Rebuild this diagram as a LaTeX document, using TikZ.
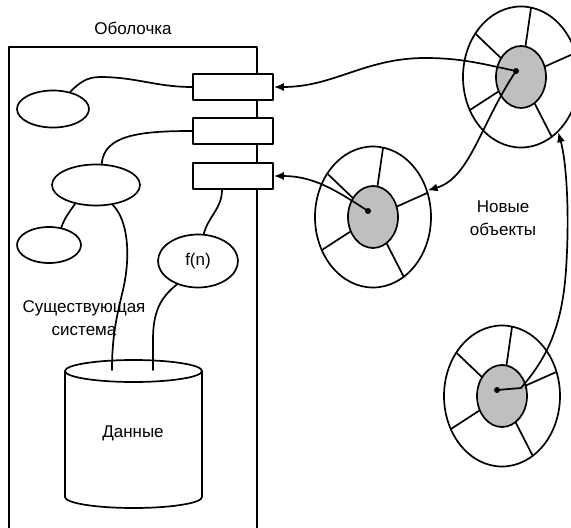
\documentclass[tikz,border=0pt]{standalone}
\usepackage{fontspec}
\setmainfont{Liberation Sans}
\usetikzlibrary{shapes.geometric,arrows.meta,calc}

% one new object: outer ring, spokes, grey core and a dot
\newcommand{\newobject}[3]{%
  \node[outerobj] (#1) at (#2,#3) {};
  \foreach \a in {80,20,-58,-152,142}
    \draw[conn] ($(#1)+({24*cos(\a)},{29*sin(\a)})$) -- ($(#1)+({58*cos(\a)},{70.5*sin(\a)})$);
  \node[innerobj] (#1in) at (#2,#3) {};
  \node[dotnode] (#1dot) at ($(#1)+(-5,6)$) {};
}

\begin{document}
\begin{tikzpicture}[x=1pt, y=1pt, line cap=round, line join=round,
  every node/.style={font=\fontsize{17}{23}\selectfont},
  conn/.style={line width=1.7pt},
  flow/.style={conn, -{Latex[length=10pt,width=8pt]}},
  port/.style={draw, fill=white, line width=1.7pt, minimum width=80pt, minimum height=26pt, inner sep=0pt},
  part/.style={draw, ellipse, line width=1.7pt, inner sep=0pt},
  outerobj/.style={draw, ellipse, line width=1.7pt, minimum width=116pt, minimum height=141pt, inner sep=0pt},
  innerobj/.style={draw, ellipse, fill=gray!50, line width=1.7pt, minimum width=50pt, minimum height=62pt, inner sep=0pt},
  dotnode/.style={circle, fill=black, minimum size=6pt, inner sep=0pt}]
  \useasboundingbox (0,0) rectangle (571,-528);

  % the shell round the old system
  \node (shelltitle) at (133,-28) {Оболочка};
  \draw[conn] (9,-530) -- (9,-47) -- (257,-47) -- (257,-530);
  \node[port] (port1) at (233,-87) {};
  \node[port] (port2) at (233,-131) {};
  \node[port] (port3) at (233,-176) {};

  % parts of the existing system
  \node[part, minimum width=72pt, minimum height=37pt] (e1) at (53,-109) {};
  \node[part, minimum width=88pt, minimum height=41pt] (e2) at (96,-185) {};
  \node[part, minimum width=64pt, minimum height=36pt] (e3) at (49,-245) {};
  \node[part, minimum width=80pt, minimum height=53pt] (fn) at (198,-261) {f(n)};
  \node[align=center] (legacy) at (84,-318) {Существующая\\система};

  % data store
  \draw[conn] (65,-371) -- (65,-497) arc[start angle=180, end angle=360, x radius=68.5pt, y radius=11pt] -- (202,-371);
  \draw[conn] (133.5,-371) ellipse[x radius=68.5pt, y radius=11pt];
  \node (data) at (133,-433) {Данные};
  \coordinate (dbleft) at (112,-370);
  \coordinate (dbright) at (153,-370);

  % links inside the shell
  \draw[conn] (port1.west) to[out=180,in=0] (100,-77) to[out=180,in=45] (e1.45);
  \draw[conn] (port2.west) .. controls (140,-131) and (104,-135) .. (e2.75);
  \draw[conn] ([xshift=-11pt]port3.south) to[out=-90,in=75] (fn.78);
  \draw[conn] (e2.222) to[out=235,in=70] (e3.55);
  \draw[conn] (e2.-50) .. controls (128,-220) and (131,-255) .. (123,-290) .. controls (117,-315) and (112,-335) .. (dbleft);
  \draw[conn] (fn.228) .. controls (160,-298) and (153,-312) .. (153,-340) -- (dbright);

  % new objects
  \newobject{objA}{521}{-77}
  \newobject{objB}{373}{-217}
  \newobject{objC}{502}{-396}
  \node[align=center] (newlabel) at (503,-218) {Новые\\объекты};

  % messages
  \draw[flow] (objAdot.center) to[out=168,in=0] (425,-58) to[out=180,in=0] (port1.east);
  \draw[flow] (objAdot.center) .. controls (480,-125) and (470,-178) .. (objB.26);
  \draw[flow] (objBdot.center) to[out=147,in=0] (port3.east);
  \draw[flow] (objCdot.center) -- (521,-388) .. controls (545,-360) and (562,-330) .. (566,-270) .. controls (570,-210) and (566,-160) .. (objA.-56);
\end{tikzpicture}
\end{document}
